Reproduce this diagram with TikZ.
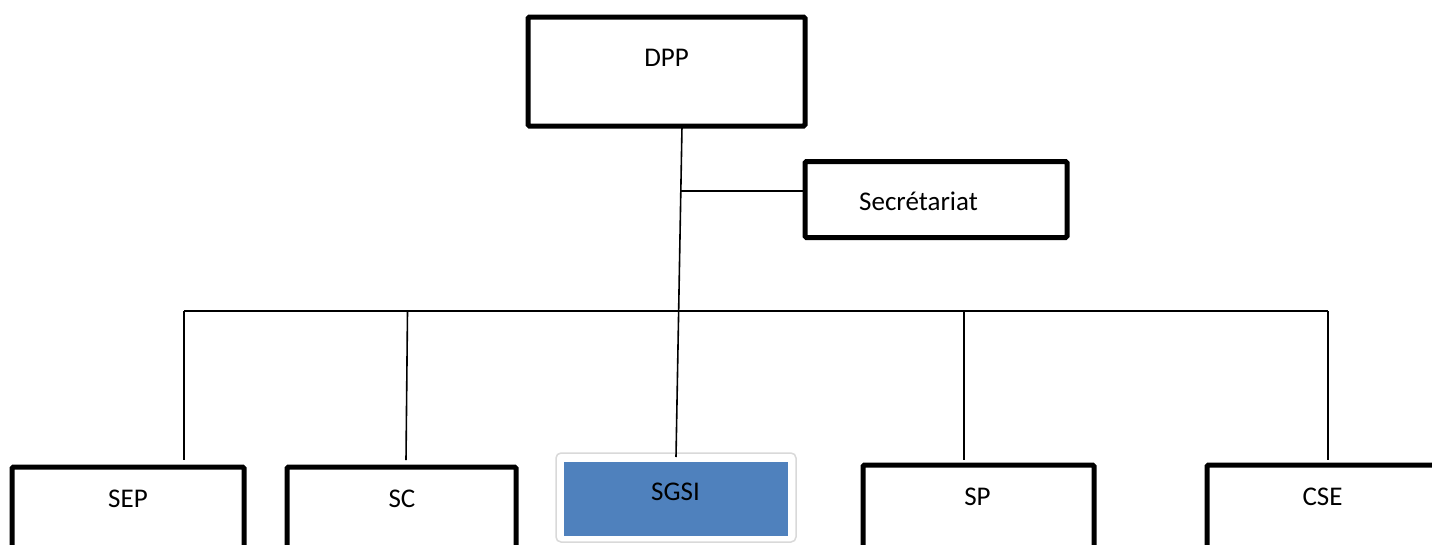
\documentclass[tikz,border=0pt]{standalone}
\usepackage{fontspec}
\setmainfont{Carlito}
\definecolor{sgsiblue}{HTML}{4F81BD}
\begin{document}
\begin{tikzpicture}[x=1pt,y=-1pt,
  box/.style={draw=black, line width=5pt, rounded corners=1.5pt, fill=white, inner sep=0pt, outer sep=0pt},
  lab/.style={font=\fontsize{27}{32}\selectfont, inner sep=0pt, anchor=base},
  conn/.style={line width=1.6pt, draw=black}]
\useasboundingbox (0,0) rectangle (1432,544);
\clip (0,0) rectangle (1432,544);

% boxes
\node[box, minimum width=277pt, minimum height=109pt] (dpp) at (666.5,71.5) {};
\node[box, minimum width=262pt, minimum height=76pt] (sec) at (936,199.5) {};
\node[box, minimum width=232pt, minimum height=120pt] (sep) at (128,527) {};
\node[box, minimum width=229pt, minimum height=120pt] (sc) at (401.5,527) {};
\node[box, minimum width=231pt, minimum height=120pt] (sp) at (978.5,525) {};
\node[box, minimum width=300pt, minimum height=120pt] (cse) at (1357,525) {};
\node[draw=black!15, line width=1.5pt, fill=white, rounded corners=5pt, minimum width=240pt, minimum height=89pt, inner sep=0pt, outer sep=0pt] (sgsishadow) at (676,497.5) {};
\node[fill=sgsiblue, minimum width=224pt, minimum height=74pt, inner sep=0pt, outer sep=0pt] (sgsi) at (676,499) {};

% labels
\node[lab] (dppt) at (666.5,66) {DPP};
\node[lab] (sect) at (918.5,210) {Secrétariat};
\node[lab] (sept) at (128,507) {SEP};
\node[lab] (sct) at (402,507) {SC};
\node[lab] (sgsit) at (675.5,500) {SGSI};
\node[lab] (spt) at (977.5,505) {SP};
\node[lab] (cset) at (1322.5,505) {CSE};

% connector coordinates
\coordinate (dppout) at ([xshift=15.5pt]dpp.south);
\coordinate (sgsiin) at ([yshift=-4pt]sgsishadow.north);
\coordinate (secj) at (681,191);
\coordinate (secin) at ([yshift=8.5pt]sec.west);
\coordinate (busl) at (184,311);
\coordinate (busr) at (1328,311);
\coordinate (busc) at (407.5,311);
\coordinate (busp) at (964,311);
\coordinate (sepin) at ([xshift=56pt,yshift=7pt]sep.north);
\coordinate (scin) at ([xshift=4.5pt,yshift=7pt]sc.north);
\coordinate (spin) at ([xshift=-14.5pt,yshift=5pt]sp.north);
\coordinate (csein) at ([xshift=-29pt,yshift=5pt]cse.north);

% connectors
\draw[conn] (dppout) -- (sgsiin);
\draw[conn] (secj) -- (secin);
\draw[conn] (busl) -- (busr);
\draw[conn] (busl) -- (sepin);
\draw[conn] (busc) -- (scin);
\draw[conn] (busp) -- (spin);
\draw[conn] (busr) -- (csein);
\end{tikzpicture}
\end{document}
